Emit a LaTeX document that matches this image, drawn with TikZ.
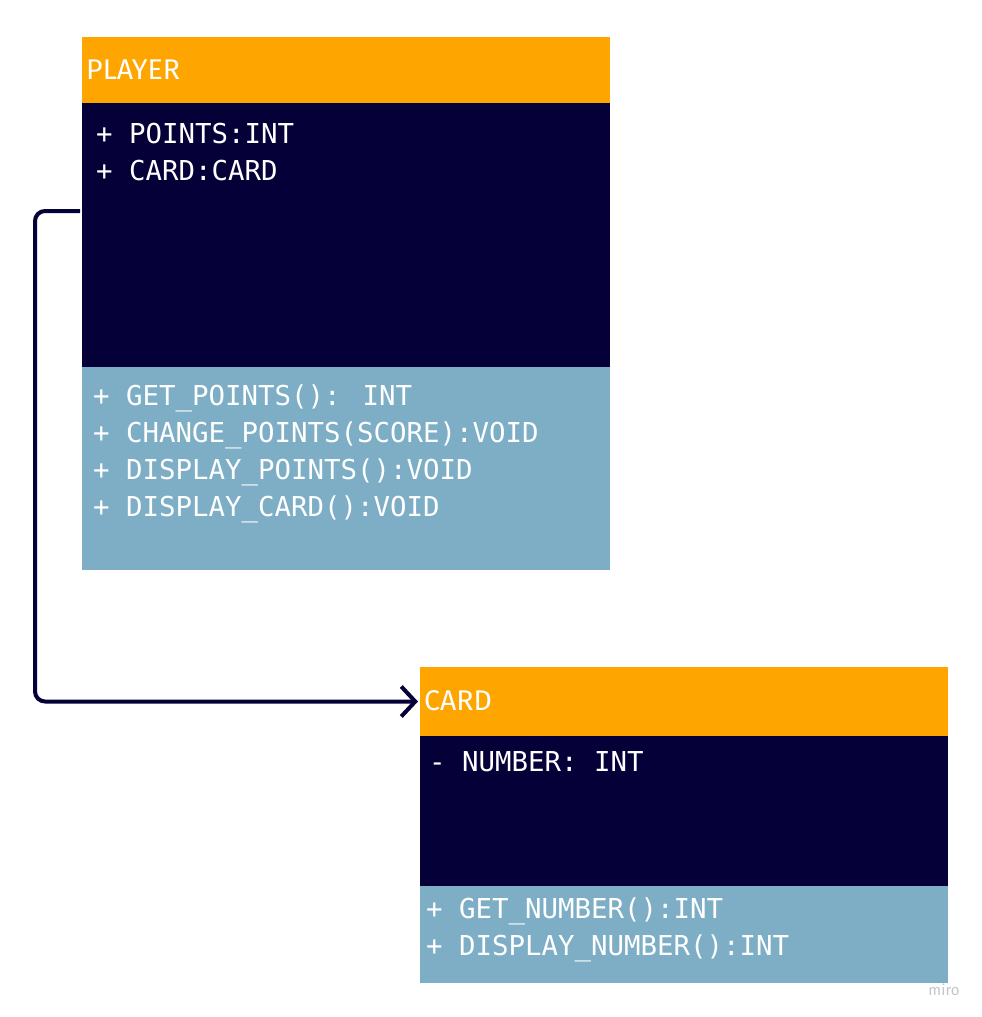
\documentclass[tikz,border=0pt]{standalone}
\usepackage{fontspec}
\setmainfont{Fira Sans}
\newfontfamily\monof{DejaVu Sans Mono}
\newfontfamily\headf{Fira Sans}
\usetikzlibrary{arrows.meta}
\definecolor{hdr}{HTML}{FFA500}
\definecolor{navy}{HTML}{050038}
\definecolor{lblue}{HTML}{7DAEC5}
\definecolor{wm}{HTML}{C4C6CC}
\tikzset{
  box/.style={draw=none, inner sep=0, outer sep=0, anchor=north west, minimum width=528pt},
  hdrbox/.style={box, fill=hdr},
  attrbox/.style={box, fill=navy},
  methbox/.style={box, fill=lblue},
  hdrtext/.style={inner sep=0, anchor=base west, text=white, font=\headf\fontsize{28.5}{32}\selectfont},
  memtext/.style={inner sep=0, anchor=base west, text=white, font=\monof\fontsize{27.4}{37}\selectfont},
  conn/.style={draw=navy, line width=4pt, rounded corners=10pt, -{Straight Barb[length=14pt,width=30pt,line width=4pt]}, shorten >=2pt},
}
\begin{document}
\begin{tikzpicture}[x=1pt,y=-1pt]
\useasboundingbox[fill=white] (0,0) rectangle (982,1017);
% PLAYER class
\node[hdrbox, minimum height=66pt] (phead) at (82,37) {};
\node[attrbox, minimum height=264pt] (pattr) at (82,103) {};
\node[methbox, minimum height=203pt] (pmeth) at (82,367) {};
\node[hdrtext] (ptitle) at (86,79) {PLAYER};
\node[memtext] (pa1) at (96,143) {+ POINTS:INT};
\node[memtext] (pa2) at (96,180) {+ CARD:CARD};
\node[memtext] (pm1) at (93,405) {+ GET\_POINTS(): INT};
\node[memtext] (pm2) at (93,442) {+ CHANGE\_POINTS(SCORE):VOID};
\node[memtext] (pm3) at (93,479) {+ DISPLAY\_POINTS():VOID};
\node[memtext] (pm4) at (93,516) {+ DISPLAY\_CARD():VOID};
% CARD class
\node[hdrbox, minimum height=69pt] (chead) at (420,667) {};
\node[attrbox, minimum height=150pt] (cattr) at (420,736) {};
\node[methbox, minimum height=97pt] (cmeth) at (420,886) {};
\node[hdrtext] (ctitle) at (424,710) {CARD};
\node[memtext] (ca1) at (429,771) {- NUMBER: INT};
\node[memtext] (cm1) at (426,918) {+ GET\_NUMBER():INT};
\node[memtext] (cm2) at (426,955) {+ DISPLAY\_NUMBER():INT};
% association
\draw[conn] ([xshift=-2pt,yshift=-108pt]pattr.north west) -- ++(-45,0) |- (chead.west);
% watermark
\node[inner sep=0, anchor=base, text=wm, font=\headf\fontsize{15}{17}\selectfont] (miro) at (944,995) {miro};
\end{tikzpicture}
\end{document}
